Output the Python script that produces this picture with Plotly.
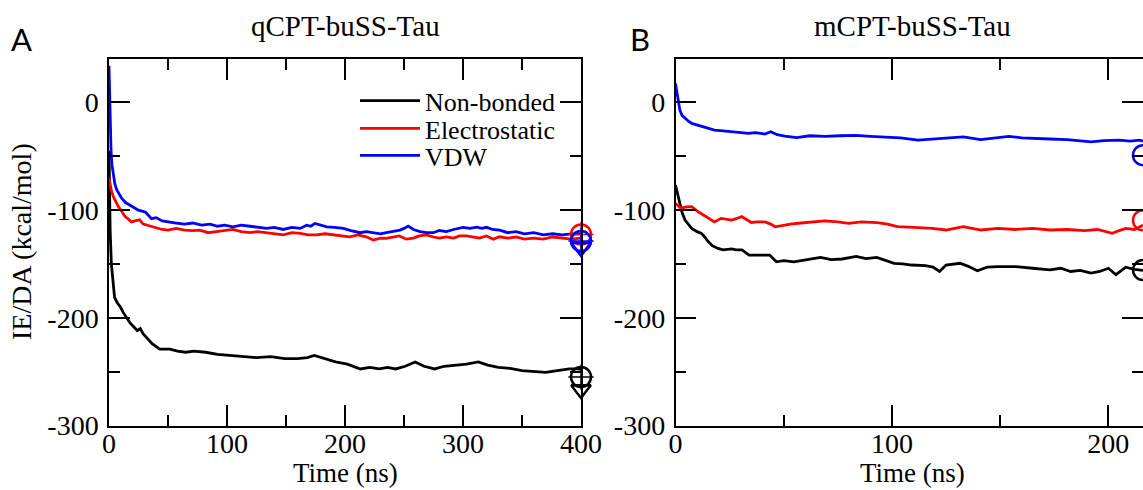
import plotly.graph_objects as go

# ---------------- Panel A: qCPT-buSS-Tau ----------------
a_nb_x = [0, 0.5, 1, 2, 3, 4.7, 7, 9.7, 12, 14.8, 18, 21.5, 24, 26.5, 29, 31.5, 36.5, 43, 51.6, 58, 65, 72, 82, 92,
          102, 113, 125, 137, 149, 160, 168, 174, 183, 192, 202, 213, 221, 229, 236, 243, 251, 259.5, 267, 276, 284,
          293, 303, 313, 321, 330, 340, 350, 360, 370, 380, 390, 398, 400]
a_nb_y = [-45, -90, -120, -150, -165, -181, -186, -190, -195, -200, -205, -209, -212, -210, -215, -218, -224, -229, -229,
          -231, -232, -231, -232, -234, -235, -236, -237, -236, -238, -238, -237, -235, -238, -241, -243, -247.5, -246,
          -247.5, -246, -247.5, -245, -241, -245, -247.5, -245, -244, -243, -241, -244, -246, -247, -249, -250, -250.6,
          -249, -247.5, -247.5, -248]

a_el_x = [0, 0.8, 2, 3.7, 5.5, 7.9, 10, 13.6, 16, 19, 22, 26, 29, 32, 36, 40, 45, 50, 57, 64, 71, 77, 84, 91, 98, 105,
          112, 119.5, 126, 133.6, 140, 147.7, 155, 162, 169, 176, 183, 190, 197, 204, 211, 218, 224, 230, 235, 241, 246,
          252, 258, 263, 269, 275, 280, 286, 292, 297, 303, 309, 314, 320, 325.7, 331, 338, 345, 352, 360, 368, 376,
          384, 392, 400]
a_el_y = [-70, -75, -82, -87.6, -92, -96.8, -100, -106, -108, -111, -110, -109, -113, -114, -115.5, -117, -118, -118.6,
          -117, -118.6, -119, -118.6, -121, -120, -119, -118, -120, -121, -120, -121, -122, -123, -121, -121.6, -123,
          -123, -122, -123, -124, -124.8, -123, -124.8, -127.8, -126, -126.3, -125, -124, -127, -126, -124, -123, -125,
          -126, -124.8, -126, -124, -124, -125, -126, -124, -127, -124.8, -126, -125, -127, -126, -127, -125, -126,
          -127, -126]

a_vdw_x = [0, 0.5, 1, 1.7, 2.5, 3.7, 5, 6.5, 8.5, 10.7, 14, 17, 19, 22, 24.9, 28, 31, 36, 40, 45, 50, 57, 64, 71, 78.5,
           85.6, 92, 98, 105, 112, 119.5, 126, 133.6, 140, 147.7, 155, 162, 167.5, 171, 174.6, 179, 184.5, 191, 198.6,
           205, 212.7, 218, 224, 230, 235, 241, 246.6, 250, 253.6, 258, 263.6, 269, 274.8, 280, 286, 292, 296, 300,
           306, 311.6, 316, 320, 325, 331, 338, 345, 352, 360, 368, 376, 384, 392, 400]
a_vdw_y = [34, 10, -20, -44, -58, -69, -76, -81, -85, -89, -93, -95, -96, -98, -100, -101, -102, -108, -107, -110, -111,
           -112, -113, -112, -114, -113, -115, -114, -115.5, -114, -115, -116, -117, -116, -118, -116, -117, -114, -115,
           -112.4, -114, -115.5, -116, -117, -119, -121, -120, -121, -122, -121, -120, -118.6, -117, -114.8, -118, -120,
           -121, -121, -119, -120, -118, -117, -116, -117, -115.8, -117, -116, -118, -118.6, -121, -120, -122, -121,
           -123, -122, -123, -122, -122]

# end-point symbols (circle / plus, triangle) for panel A
a_end_x = 400
a_circ = {"nb": -255, "el": -122.7, "vdw": -128.8}
a_tri = {"nb": -266.5, "el": -134.2, "vdw": -134.6}

# ---------------- Panel B: mCPT-buSS-Tau ----------------
b_nb_x = [0, 1, 2, 3, 4.4, 6, 7.5, 10, 12, 13.5, 15, 17, 19.6, 22, 26, 28, 30.7, 34, 38, 43.5, 46.6, 50, 54.7, 60, 67,
          72, 77, 83.5, 88, 93, 97, 101, 105, 109, 115.5, 119, 122, 125, 131.5, 135, 139.5, 144, 149, 157, 165, 173,
          178, 182.6, 187, 192, 196, 200, 203.5, 208, 212, 214.5, 216]
b_nb_y = [-76.8, -86, -93.8, -102, -109.3, -113, -117, -120, -121.6, -125, -129, -133, -135.6, -137, -136, -137, -137,
          -141.8, -142, -141.8, -148, -147, -148, -146, -144, -146, -145.4, -143, -145, -144, -147, -149.4, -150, -151,
          -151.5, -153, -157, -151, -149.4, -152, -156.4, -153, -152.4, -152.4, -154, -155.5, -154, -157, -156, -158.5,
          -157, -154, -160, -153, -155, -155.5, -156]

b_el_x = [0, 1, 2.5, 5, 7.5, 10.5, 13, 15, 18, 21, 24, 26, 28, 30.6, 33, 35, 38, 41.3, 44, 46, 50.5, 53, 58, 63, 69, 75,
          80, 86, 93, 98, 102.6, 110, 118.6, 125, 129, 133, 137, 141, 149, 157, 165, 173, 181, 189, 195, 201.8, 205,
          208, 212, 214.5, 216]
b_el_y = [-93.8, -96, -98.4, -97, -96.9, -101.6, -105, -107.7, -111, -107.7, -109, -109.3, -108, -106, -109, -111.5,
          -111, -111, -113, -115.5, -114, -113, -112, -111, -110, -111, -112.3, -111, -111.7, -113, -115.4, -116, -117,
          -118.5, -117, -115.4, -117, -118.5, -117, -118, -117, -118.5, -118, -119, -118, -121.6, -119, -117, -118,
          -115.4, -114]

b_vdw_x = [0, 0.5, 1, 2, 3, 4.4, 6, 7.5, 10, 12, 15, 18, 22, 26, 29, 33.7, 37, 41.3, 44, 47, 50.5, 56, 62, 69, 76, 83.5,
           90, 96, 104, 112, 118, 125, 133, 141, 147, 154, 160, 165, 173, 181, 187, 192, 198, 205, 210, 214.5, 216]
b_vdw_y = [17.6, 11, 5.2, -7, -12, -15, -17.5, -19.5, -21, -22.6, -24, -25.7, -26.5, -27.3, -28, -28.8, -28, -29.4,
           -27.3, -30, -31.3, -32.7, -31, -31.5, -31, -30.6, -31.5, -32, -33, -35, -34, -32.7, -32, -34.6, -33, -31.5,
           -33, -33.6, -34, -34.6, -35.5, -36.7, -35.5, -35, -36, -35, -36]

b_end_x = 216
b_circ = {"nb": -155.7, "el": -109.4, "vdw": -49}

# ---------------- labels ----------------
series_names = {"nb": "Non-bonded", "el": "Electrostatic", "vdw": "VDW"}
colors = {"nb": "#000000", "el": "#ff0000", "vdw": "#0000ff"}
title_a = "qCPT-buSS-Tau"
title_b = "mCPT-buSS-Tau"
x_title = "Time (ns)"
y_title = "IE/DA (kcal/mol)"
panel_a = "A"
panel_b = "B"
y_ticks = [0, -100, -200, -300]
y_tick_text = ["0", "-100", "-200", "-300"]
a_x_ticks = [0, 100, 200, 300, 400]
b_x_ticks = [0, 100, 200]

W, H = 1143, 490
SERIF = "Liberation Serif"
LW = 2.8

fig = go.Figure()

legend_ids = {"nb": "legend", "el": "legend2", "vdw": "legend3"}
a_data = {"nb": (a_nb_x, a_nb_y), "el": (a_el_x, a_el_y), "vdw": (a_vdw_x, a_vdw_y)}
b_data = {"nb": (b_nb_x, b_nb_y), "el": (b_el_x, b_el_y), "vdw": (b_vdw_x, b_vdw_y)}

for k in ["nb", "el", "vdw"]:
    xs, ys = a_data[k]
    fig.add_trace(go.Scatter(x=xs, y=ys, mode="lines", name=series_names[k],
                             line=dict(color=colors[k], width=LW),
                             xaxis="x", yaxis="y", legend=legend_ids[k], showlegend=True))

for k in ["nb", "el", "vdw"]:
    fig.add_trace(go.Scatter(x=[a_end_x], y=[a_tri[k]], mode="markers", showlegend=False,
                             marker=dict(symbol="triangle-down-open", size=17, color=colors[k],
                                         line=dict(width=2.5, color=colors[k])),
                             xaxis="x", yaxis="y", cliponaxis=False))
    fig.add_trace(go.Scatter(x=[a_end_x], y=[a_circ[k]], mode="markers", showlegend=False,
                             marker=dict(symbol="circle-open", size=20, color=colors[k],
                                         line=dict(width=2.5, color=colors[k])),
                             xaxis="x", yaxis="y", cliponaxis=False))
    fig.add_trace(go.Scatter(x=[a_end_x], y=[a_circ[k]], mode="markers", showlegend=False,
                             marker=dict(symbol="cross-thin-open", size=18, color=colors[k],
                                         line=dict(width=1.5, color=colors[k])),
                             xaxis="x", yaxis="y", cliponaxis=False))

for k in ["nb", "el", "vdw"]:
    xs, ys = b_data[k]
    fig.add_trace(go.Scatter(x=xs, y=ys, mode="lines", showlegend=False,
                             line=dict(color=colors[k], width=LW), xaxis="x2", yaxis="y2"))
    fig.add_trace(go.Scatter(x=[b_end_x], y=[b_circ[k]], mode="markers", showlegend=False,
                             marker=dict(symbol="circle-open", size=20, color=colors[k],
                                         line=dict(width=2.5, color=colors[k])),
                             xaxis="x2", yaxis="y2", cliponaxis=False))

def axis_style(**kw):
    d = dict(showline=True, linecolor="black", linewidth=1.5, mirror="ticks",
             ticks="inside", ticklen=21, tickwidth=1.5, tickcolor="black",
             showgrid=False, zeroline=False, automargin=False,
             tickfont=dict(family=SERIF, size=28, color="black"),
             minor=dict(ticks="inside", ticklen=11, tickwidth=1.5, tickcolor="black",
                        dtick=50, showgrid=False))
    d.update(kw)
    return d

ydom = [1 - 425.5 / H, 1 - 59.3 / H]
fig.update_layout(
    width=W, height=H, autosize=False,
    margin=dict(l=0, r=0, t=0, b=0, pad=0),
    paper_bgcolor="white", plot_bgcolor="white",
    xaxis=axis_style(domain=[109 / W, 581 / W], range=[0, 400], tickvals=a_x_ticks,
                     ticklabelstandoff=-8, anchor="y"),
    yaxis=axis_style(domain=ydom, range=[-300, 40], tickvals=y_ticks, ticktext=y_tick_text,
                     ticklabelstandoff=3, anchor="x"),
    xaxis2=axis_style(domain=[675.5 / W, 1.0], range=[0, 216], tickvals=b_x_ticks,
                      ticklabelstandoff=-8, anchor="y2"),
    yaxis2=axis_style(domain=ydom, range=[-300, 40], tickvals=y_ticks, ticktext=y_tick_text,
                      ticklabelstandoff=3, anchor="x2"),
)

leg_common = dict(xanchor="left", yanchor="middle", bgcolor="rgba(0,0,0,0)", borderwidth=0,
                  font=dict(family=SERIF, size=26, color="black"), itemwidth=60,
                  tracegroupgap=0)
fig.update_layout(
    legend=dict(x=355 / W, y=1 - 100.8 / H, **leg_common),
    legend2=dict(x=355 / W, y=1 - 128.5 / H, **leg_common),
    legend3=dict(x=355 / W, y=1 - 155.5 / H, **leg_common),
)

ann = []
ann.append(dict(text=title_a, x=345 / W, y=1 - 26 / H, xref="paper", yref="paper",
                xanchor="center", yanchor="middle", showarrow=False,
                font=dict(family=SERIF, size=29, color="black")))
ann.append(dict(text=title_b, x=912 / W, y=1 - 26 / H, xref="paper", yref="paper",
                xanchor="center", yanchor="middle", showarrow=False,
                font=dict(family=SERIF, size=29, color="black")))
ann.append(dict(text=x_title, x=345 / W, y=0, xref="paper", yref="paper",
                xanchor="center", yanchor="bottom", showarrow=False,
                font=dict(family=SERIF, size=27, color="black")))
ann.append(dict(text=x_title, x=912 / W, y=0, xref="paper", yref="paper",
                xanchor="center", yanchor="bottom", showarrow=False,
                font=dict(family=SERIF, size=27, color="black")))
ann.append(dict(text=y_title, x=22 / W, y=1 - 242 / H, xref="paper", yref="paper",
                xanchor="center", yanchor="middle", showarrow=False, textangle=-90,
                font=dict(family=SERIF, size=28, color="black")))
ann.append(dict(text=panel_a, x=21 / W, y=1 - 39 / H, xref="paper", yref="paper",
                xanchor="center", yanchor="middle", showarrow=False,
                font=dict(family="Lato", size=31, color="black")))
ann.append(dict(text=panel_b, x=640 / W, y=1 - 39 / H, xref="paper", yref="paper",
                xanchor="center", yanchor="middle", showarrow=False,
                font=dict(family="Lato", size=31, color="black")))
fig.update_layout(annotations=ann)

fig.write_html("out.html", config={"displayModeBar": False},
               post_script="document.body.style.margin='0';document.body.style.overflow='hidden';")
